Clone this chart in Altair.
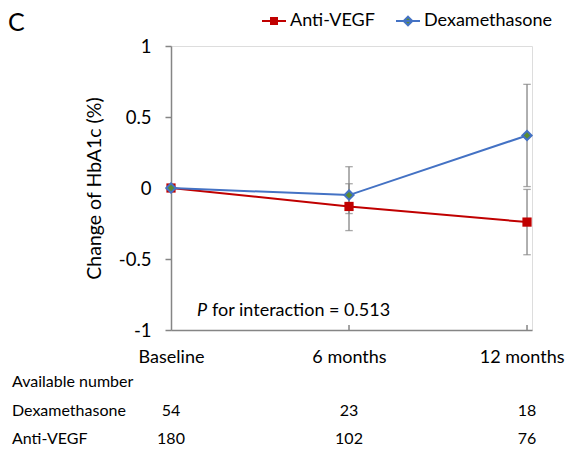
import altair as alt
import pandas as pd

# ---- data ----
timepoints = ["Baseline", "6 months", "12 months"]
time_index = [0, 1, 2]
series_names = ["Anti-VEGF", "Dexamethasone"]

anti_mean = [0.0, -0.13, -0.24]
anti_lower = [0.0, -0.30, -0.47]
anti_upper = [0.0, 0.03, -0.01]

dexa_mean = [0.0, -0.05, 0.37]
dexa_lower = [0.0, -0.18, 0.01]
dexa_upper = [0.0, 0.15, 0.73]

dexa_n = [54, 23, 18]
anti_n = [180, 102, 76]

y_ticks = [-1, -0.5, 0, 0.5, 1]
p_text = "P"
p_rest = "for interaction = 0.513"

FONT = "Lato"
RED = "#c00000"
BLUE = "#4472c4"
GREEN = "#5b8c32"
GRAY = "#858585"

rows = []
for s, m, lo, hi in [("Anti-VEGF", anti_mean, anti_lower, anti_upper),
                     ("Dexamethasone", dexa_mean, dexa_lower, dexa_upper)]:
    for t, mv, l, h in zip(time_index, m, lo, hi):
        rows.append({"t": t, "series": s, "mean": mv, "lower": l, "upper": h})
df = pd.DataFrame(rows)

label_expr = "[" + ",".join("'%s'" % t for t in timepoints) + "][datum.value]"
last_t = time_index[-1]

x_scale = alt.Scale(domain=[0, 2.028], nice=False, zero=False)
y_scale = alt.Scale(domain=[-1, 1], nice=False, zero=False)
x_axis = alt.Axis(values=time_index, labelExpr=label_expr, title=None,
                  grid=False, tickSize=0, labelPadding=18, labelFlush=False,
                  labelAlign={"condition": {"test": "datum.value == %d" % last_t, "value": "right"},
                              "value": "center"},
                  labelOffset={"condition": {"test": "datum.value == %d" % last_t, "value": 37},
                               "value": 0},
                  labelFontSize=18, labelFont=FONT, labelColor="#000000",
                  domainColor=GRAY, domainWidth=1.5)
y_axis = alt.Axis(values=y_ticks, labelExpr="'' + datum.value",
                  title="Change of HbA1c (%)", titleFont=FONT, titleFontSize=19.5,
                  titleFontWeight="normal", titleColor="#000000", titlePadding=14,
                  grid=False, tickSize=6, tickColor=GRAY, tickWidth=1.5,
                  labelPadding=14, labelFontSize=18.5, labelFont=FONT,
                  labelColor="#000000", domainColor=GRAY, domainWidth=1.5)


def X(field="t"):
    return alt.X(field + ":Q", scale=x_scale, axis=x_axis)


def Y(field):
    return alt.Y(field + ":Q", scale=y_scale, axis=y_axis)


base = alt.Chart(df)
anti = base.transform_filter(alt.datum.series == "Anti-VEGF")
dexa = base.transform_filter(alt.datum.series == "Dexamethasone")

anti_line = anti.mark_line(color=RED, strokeWidth=2).encode(x=X(), y=Y("mean"))
anti_pts = anti.mark_point(shape="square", filled=True, color=RED, size=85, opacity=1).encode(
    x=X(), y=Y("mean"))
dexa_line = dexa.mark_line(color=BLUE, strokeWidth=2).encode(x=X(), y=Y("mean"))
dexa_pts = dexa.mark_point(shape="diamond", filled=True, fill=GREEN, stroke=BLUE, strokeWidth=2,
                           size=85, opacity=1).encode(x=X(), y=Y("mean"))

err = base.transform_filter(alt.datum.t > 0)
err_rule = err.mark_rule(color=GRAY, strokeWidth=1.3).encode(x=X(), y=Y("lower"), y2="upper:Q")
cap_lo = err.mark_tick(color=GRAY, thickness=1.3, size=7.5, orient="horizontal").encode(
    x=X(), y=Y("lower"))
cap_hi = err.mark_tick(color=GRAY, thickness=1.3, size=7.5, orient="horizontal").encode(
    x=X(), y=Y("upper"))

# small upward tick marks on the x axis
tick_df = pd.DataFrame({"t": time_index[1:], "y0": [-1] * 2, "y1": [-0.965] * 2})
x_ticks = alt.Chart(tick_df).mark_rule(color=GRAY, strokeWidth=1.5).encode(
    x=X(), y=Y("y0"), y2="y1:Q")

# legend (line + marker symbols)
path_sq = "M-1,0H1M-0.25,-0.25H0.25V0.25H-0.25Z"
path_di = "M-1,0H1M0,-0.36L0.36,0L0,0.36L-0.36,0Z"
leg = dict(orient="none", legendX=90, legendY=-38, direction="horizontal", title=None,
           labelFont=FONT, labelFontSize=18, labelColor="#000000", symbolSize=576,
           symbolStrokeWidth=2, columnPadding=17, labelOffset=3, padding=0)
legend_layer = alt.Chart(pd.DataFrame({"series": series_names})).transform_filter("false").mark_point(
    filled=True, opacity=1).encode(
    shape=alt.Shape("series:N", scale=alt.Scale(domain=series_names, range=[path_sq, path_di]),
                    legend=alt.Legend(**leg)),
    fill=alt.Fill("series:N", scale=alt.Scale(domain=series_names, range=[RED, GREEN]),
                  legend=alt.Legend(**leg)),
    stroke=alt.Stroke("series:N", scale=alt.Scale(domain=series_names, range=[RED, BLUE]),
                      legend=alt.Legend(**leg)),
)


def label(text, x, y, size=16, style="normal"):
    return alt.Chart(pd.DataFrame({"txt": [text]})).mark_text(
        font=FONT, fontSize=size, fontStyle=style, align="left", baseline="middle",
        color="#000000").encode(text="txt:N", x=alt.value(x), y=alt.value(y))


panel = label("C", -163, -23, size=25)
p_it = label(p_text, 26, 265, size=18, style="italic")
p_rest_mark = label(p_rest, 41, 265, size=18)
avail = label("Available number", -159, 336)
dexa_lbl = label("Dexamethasone", -159, 365)
anti_lbl = label("Anti-VEGF", -159, 393)

n_df = pd.DataFrame({"t": time_index, "dexa": dexa_n, "anti": anti_n})
dexa_num = alt.Chart(n_df).mark_text(font=FONT, fontSize=16, align="center", baseline="middle",
                                     color="#000000").encode(text="dexa:Q", x=X(), y=alt.value(365))
anti_num = alt.Chart(n_df).mark_text(font=FONT, fontSize=16, align="center", baseline="middle",
                                     color="#000000").encode(text="anti:Q", x=X(), y=alt.value(393))

chart = alt.layer(
    anti_line, x_ticks, err_rule, cap_lo, cap_hi, anti_pts, dexa_line, dexa_pts,
    legend_layer, panel, p_it, p_rest_mark, avail, dexa_lbl, anti_lbl, dexa_num, anti_num
).properties(
    width=361, height=284,
    autosize=alt.AutoSizeParams(type="none"),
    padding={"left": 163, "top": 38, "right": 33, "bottom": 116},
).configure_view(stroke=None).configure(font=FONT)

chart.save("out.html", embed_options={"renderer": "svg", "actions": False})
